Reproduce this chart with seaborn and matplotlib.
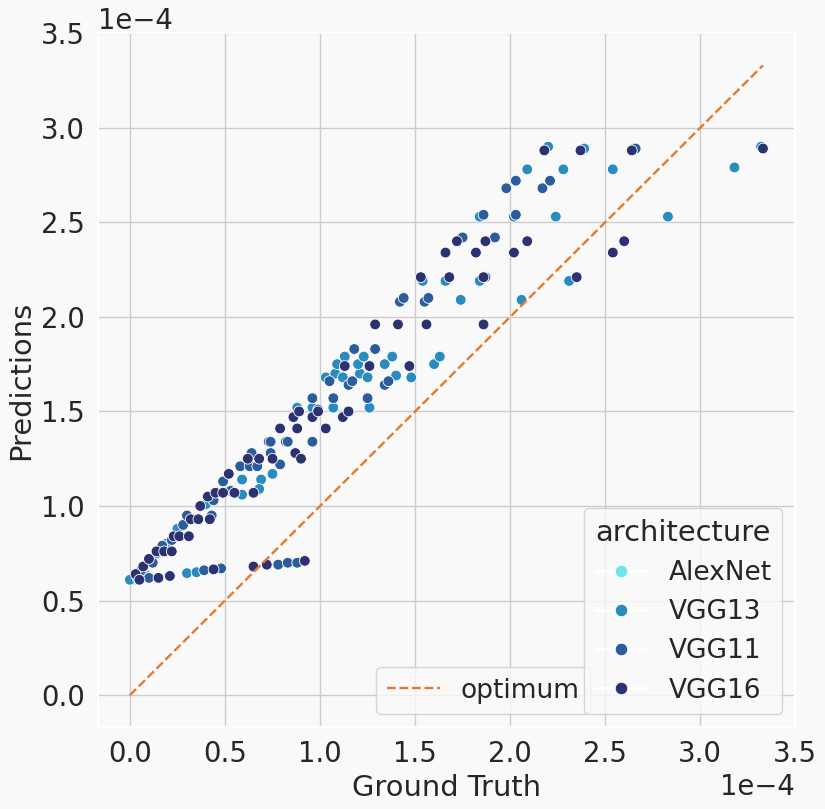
import numpy as np
import pandas as pd
import matplotlib
matplotlib.use("Agg")
import matplotlib.pyplot as plt
from matplotlib.lines import Line2D
import seaborn as sns

SCALE = 1e-4

architectures = ["AlexNet", "VGG13", "VGG11", "VGG16"]
palette_hex = ["#6ce5e8", "#2a8cbe", "#2b5d9c", "#2c3171"]

# values in units of 1e-4
alexnet_gt = [0.00, 0.01, 0.02, 0.03, 0.05, 0.08, 0.10, 0.14]
alexnet_pred = [0.61, 0.62, 0.62, 0.61, 0.63, 0.64, 0.72, 0.76]

vgg13_gt = [0.00, 0.04, 0.09, 0.25, 0.30, 0.35, 0.59, 0.69, 0.75, 0.59, 0.68,
            0.88, 0.96, 1.07, 1.26, 1.03, 1.08, 1.12, 1.21, 1.25, 1.40, 1.48,
            1.09, 1.20, 1.34, 1.60, 1.13, 1.23, 1.38, 1.63,
            1.54, 1.66, 1.84, 2.31, 1.74, 2.06, 1.84, 2.02, 2.24, 2.83,
            2.09, 2.28, 2.54, 3.18, 2.20, 2.39, 2.65, 3.32, 0.19, 0.14, 0.40]
vgg13_pred = [0.61, 0.62, 0.63, 0.88, 0.645, 0.65, 1.14, 1.14, 1.17, 1.06, 1.09,
              1.52, 1.52, 1.52, 1.52, 1.68, 1.70, 1.68, 1.70, 1.68, 1.69, 1.68,
              1.75, 1.75, 1.75, 1.75, 1.79, 1.79, 1.79, 1.79,
              2.19, 2.19, 2.19, 2.19, 2.09, 2.09, 2.53, 2.53, 2.53, 2.53,
              2.78, 2.78, 2.78, 2.79, 2.90, 2.89, 2.89, 2.90, 0.80, 0.75, 1.01]

vgg11_gt = [0.10, 0.39, 0.48, 0.78, 0.83, 0.88, 0.17, 0.22, 0.28, 0.30, 0.43,
            0.44, 0.49, 0.58, 0.63, 0.67, 0.79, 0.64, 0.74, 0.73, 0.82, 0.83,
            0.96, 0.74, 0.96, 1.07, 1.25, 0.99, 1.05, 1.15, 1.17, 1.34, 1.36,
            1.18, 1.29, 1.42, 1.44, 1.55, 1.57, 1.86, 2.03, 1.75, 1.92,
            1.98, 2.17, 2.03, 2.21, 1.87, 2.66, 0.06, 0.12, 0.53]
vgg11_pred = [0.62, 0.66, 0.67, 0.69, 0.70, 0.70, 0.79, 0.82, 0.90, 0.95, 0.95,
              1.03, 1.13, 1.21, 1.21, 1.21, 1.22, 1.28, 1.28, 1.34, 1.34, 1.34,
              1.34, 1.34, 1.57, 1.57, 1.57, 1.51, 1.66, 1.64, 1.66, 1.64, 1.66,
              1.83, 1.83, 2.08, 2.10, 2.08, 2.10, 2.54, 2.54, 2.42, 2.42,
              2.68, 2.68, 2.72, 2.72, 2.21, 2.89, 0.66, 0.70, 1.08]

vgg16_gt = [0.03, 0.05, 0.07, 0.10, 0.14, 0.18, 0.22, 0.15, 0.21, 0.44,
            0.65, 0.72, 0.92, 0.23, 0.26, 0.31, 0.32, 0.36, 0.42, 0.37,
            0.41, 0.45, 0.49, 0.55, 0.65, 0.52, 0.62, 0.68, 0.75, 0.87,
            0.90, 0.79, 0.88, 1.03, 0.86, 0.96, 1.12, 0.89, 0.99, 1.15,
            1.13, 1.26, 1.47, 1.29, 1.41, 1.56, 1.86, 1.53, 1.68, 1.86,
            2.35, 1.66, 1.82, 2.02, 2.54, 1.72, 1.87, 2.09, 2.60,
            2.18, 2.37, 2.64, 3.33]
vgg16_pred = [0.64, 0.61, 0.68, 0.72, 0.76, 0.76, 0.76, 0.62, 0.63, 0.665,
              0.68, 0.69, 0.71, 0.84, 0.84, 0.84, 0.93, 0.93, 0.93, 1.00,
              1.05, 1.07, 1.07, 1.07, 1.07, 1.17, 1.25, 1.25, 1.25, 1.28,
              1.25, 1.41, 1.41, 1.41, 1.47, 1.47, 1.47, 1.50, 1.50, 1.50,
              1.74, 1.74, 1.74, 1.96, 1.96, 1.96, 1.96, 2.21, 2.21, 2.21,
              2.21, 2.34, 2.34, 2.34, 2.34, 2.40, 2.40, 2.40, 2.40,
              2.88, 2.88, 2.88, 2.89]

gt_lists = [alexnet_gt, vgg13_gt, vgg11_gt, vgg16_gt]
pred_lists = [alexnet_pred, vgg13_pred, vgg11_pred, vgg16_pred]

frames = []
for name, gt, pr in zip(architectures, gt_lists, pred_lists):
    frames.append(pd.DataFrame({
        "Ground Truth": np.array(gt) * SCALE,
        "Predictions": np.array(pr) * SCALE,
        "architecture": name,
    }))
df = pd.concat(frames, ignore_index=True)

bg = "#f9f9f9"
sns.set_theme(style="whitegrid", font_scale=1.8,
              rc={"axes.facecolor": bg, "figure.facecolor": bg,
                  "axes.edgecolor": "white", "grid.color": "#cccccc",
                  "axes.linewidth": 1.5})
plt.rcParams["font.family"] = ["DejaVu Sans"]

fig = plt.figure(figsize=(8.25, 8.09), dpi=100)
ax = fig.add_axes([0.119, 0.101, 0.845, 0.858])

palette = dict(zip(architectures, palette_hex))
sns.scatterplot(data=df, x="Ground Truth", y="Predictions", hue="architecture",
                hue_order=architectures, palette=palette, s=60,
                edgecolor="white", linewidth=0.6, legend=False, ax=ax)

opt = np.array([df["Ground Truth"].min(), df["Ground Truth"].max()])
opt_line, = ax.plot(opt, opt, linestyle="--", color="#e8792a", linewidth=1.7,
                    label="optimum")

ax.set_xlim(-0.167 * SCALE, 3.5 * SCALE)
ax.set_ylim(-0.17 * SCALE, 3.5 * SCALE)
ax.ticklabel_format(style="sci", axis="both", scilimits=(0, 0))
ax.set_xlabel("Ground Truth", fontsize=20.8)
ax.set_ylabel("Predictions", fontsize=20.8)
ax.tick_params(labelsize=19.8)
ax.xaxis.get_offset_text().set_fontsize(19.8)
ax.yaxis.get_offset_text().set_fontsize(19.8)

leg1 = ax.legend(handles=[opt_line], loc="lower right",
                 bbox_to_anchor=(0.725, 0.0), fontsize=19, framealpha=0.8)
ax.add_artist(leg1)

handles = [Line2D([], [], color="white", linewidth=2, marker="o",
                  markersize=9, markerfacecolor=c, markeredgecolor="white",
                  markeredgewidth=0.6) for c in palette_hex]
ax.legend(handles=handles, labels=architectures, title="architecture",
          loc="lower right", fontsize=19, title_fontsize=20.8, framealpha=0.8)

fig.savefig("out.png", dpi=100, facecolor=bg)
